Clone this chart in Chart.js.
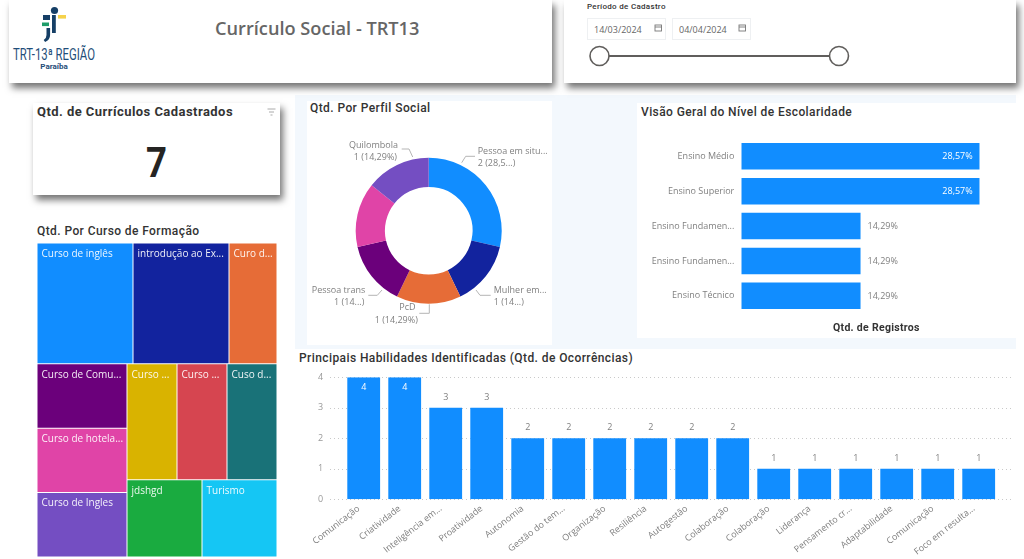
<!DOCTYPE html>
<html lang="pt-BR"><head><meta charset="utf-8">
<script src="https://cdn.jsdelivr.net/npm/chart.js@4"></script>
<style>
html,body{margin:0;padding:0;background:#fff;width:1024px;height:559px;overflow:hidden}
body{position:relative;font-family:Roboto,sans-serif}
.abs,canvas{position:absolute;display:block}
.panel{position:absolute;background:#fff}
.shadow{box-shadow:3px 5px 7px rgba(0,0,0,.55)}
.ttl{position:absolute;white-space:nowrap;color:#333;font:500 12px Roboto,sans-serif;letter-spacing:.41px;line-height:16px}
.date{position:absolute;top:18px;height:22px;width:79px;border:1px solid #eef0f2;box-sizing:border-box;font:9px "Open Sans",sans-serif;color:#666;line-height:22px;padding-left:6px}
</style></head><body>
<div class="abs" style="left:295px;top:95px;width:721px;height:254px;background:#f3f8fd"></div>

<div class="panel shadow" style="left:9px;top:0;width:543px;height:83px"></div>
<div class="panel shadow" style="left:564px;top:0;width:452px;height:83px"></div>
<svg class="abs" style="left:0;top:0" width="110" height="76" viewBox="0 0 110 76">
  <circle cx="54.5" cy="10.5" r="3.6" fill="#163f66"/>
  <rect x="58" y="15" width="8" height="3.6" fill="#f5d24b"/>
  <rect x="43" y="15" width="7" height="5" fill="#163f66"/>
  <rect x="42" y="22.5" width="7" height="3.6" fill="#1f9d6a"/>
  <path d="M52 15h3.8v18h-3.8zM46.5 28h3.6v7q0 5-5 7l-1.4-2q2.8-1.6 2.8-5z" fill="#163f66"/>
  <text x="54" y="59.5" text-anchor="middle" textLength="82" lengthAdjust="spacingAndGlyphs" font-family="Roboto" font-size="16" fill="#1f4e79">TRT-13ª REGIÃO</text>
  <text x="54" y="69" text-anchor="middle" font-family="Roboto" font-weight="700" font-size="8" fill="#1f4e79">Paraíba</text>
</svg>
<div class="ttl" style="left:215px;top:16px;font:600 18.2px/24px 'Open Sans',sans-serif;color:#666;letter-spacing:0">Currículo Social - TRT13</div>

<div class="ttl" style="left:587px;top:2px;font:500 8px Roboto,sans-serif;letter-spacing:.3px;color:#333">Período de Cadastro</div>
<div class="date" style="left:587px">14/03/2024</div>
<div class="date" style="left:672px">04/04/2024</div>
<svg class="abs" style="left:560px;top:15px" width="240" height="60" viewBox="0 0 240 60">
  <g fill="none" stroke="#777" stroke-width=".9"><rect x="95" y="10" width="6.5" height="6"/><path d="M95 12h6.5"/><rect x="179" y="10" width="6.5" height="6"/><path d="M179 12h6.5"/></g>
</svg>
<svg class="abs" style="left:585px;top:42px" width="270" height="28" viewBox="0 0 270 28">
  <line x1="14" y1="14" x2="254" y2="14" stroke="#605e5c" stroke-width="2"/>
  <circle cx="14.5" cy="14" r="9.5" fill="#fff" stroke="#605e5c" stroke-width="1.6"/>
  <circle cx="254" cy="14" r="9.5" fill="#fff" stroke="#605e5c" stroke-width="1.6"/>
</svg>

<div class="panel shadow" style="left:33px;top:103px;width:247px;height:92px"></div>
<div class="ttl" style="left:37px;top:104px;font:700 13px/16px Roboto,sans-serif;letter-spacing:.45px">Qtd. de Currículos Cadastrados</div>
<svg class="abs" style="left:267px;top:108px" width="10" height="9"><path d="M.5 1h8M2 4h5M3.5 7h2" stroke="#aaa" stroke-width="1" fill="none"/></svg>
<div class="abs" style="left:33px;top:135px;width:247px;text-align:center;font:700 43px/54px Roboto,sans-serif;color:#252423;transform:scaleX(.85)">7</div>

<div class="ttl" style="left:37px;top:223px">Qtd. Por Curso de Formação</div>
<canvas id="treemap" style="left:37px;top:243px" width="240" height="314"></canvas>

<div class="panel" style="left:307px;top:101px;width:245px;height:244px"></div>
<div class="ttl" style="left:310px;top:100px">Qtd. Por Perfil Social</div>
<canvas id="donut" style="left:307px;top:101px" width="245" height="244"></canvas>

<div class="panel" style="left:637px;top:103px;width:379px;height:235px"></div>
<div class="ttl" style="left:641px;top:104px">Visão Geral do Nível de Escolaridade</div>
<canvas id="levels" style="left:637px;top:103px" width="379" height="235"></canvas>
<div class="ttl" style="left:833px;top:320px;font-size:10.5px;font-weight:700;letter-spacing:.3px">Qtd. de Registros</div>

<div class="panel" style="left:295px;top:349px;width:729px;height:210px"></div>
<div class="ttl" style="left:299px;top:350px">Principais Habilidades Identificadas (Qtd. de Ocorrências)</div>
<canvas id="skills" style="left:295px;top:349px" width="729" height="210"></canvas>

<script>
// ---- data ----
const courseNames  = ['Curso de inglês','introdução ao Ex...','Curo d...','Curso de Comu...','Curso de hotela...','Curso de Ingles','Curso ...','Curso ...','Cuso d...','jdshgd','Turismo'];
const courseValues = [2,2,1,1,1,1,1,1,1,1,1];
const courseColors = ['#118DFF','#12239E','#E66C37','#6B007B','#E044A7','#744EC2','#D9B300','#D64550','#197278','#1AAB40','#15C6F4'];

const profileNames  = ['Pessoa em situ...','Mulher em...','PcD','Pessoa trans','(sem rótulo)','Quilombola'];
const profileValues = [2,1,1,1,1,1];
const profileCaptions = ['2 (28,5...)','1 (14...)','1 (14,29%)','1 (14...)','','1 (14,29%)'];
const profileColors = ['#118DFF','#12239E','#E66C37','#6B007B','#E044A7','#744EC2'];

const levelNames  = ['Ensino Médio','Ensino Superior','Ensino Fundamen...','Ensino Fundamen...','Ensino Técnico'];
const levelValues = [28.57,28.57,14.29,14.29,14.29];

const skillNames  = ['Comunicação','Criatividade','Inteligência em...','Proatividade','Autonomia','Gestão do tem...','Organização','Resiliência','Autogestão','Colaboração','Colaboração','Liderança','Pensamento cr...','Adaptabilidade','Comunicação','Foco em resulta...'];
const skillValues = [4,4,3,3,2,2,2,2,2,2,1,1,1,1,1,1];
const skillTicks  = [0,1,2,3,4];

// ---- style ----
const BLUE='#118DFF', LBL='9px "Open Sans", sans-serif', GRAY='#808080';
Chart.defaults.animation=false;
Chart.defaults.responsive=false;
Chart.defaults.events=[];
Chart.defaults.plugins.legend.display=false;
Chart.defaults.plugins.tooltip.enabled=false;

// ---- treemap: strips of cells cut from the remaining area, cell size from the values ----
const stripPlan=[['top',3],['left',3],['top',3],['top',2]];
const treemapPlugin={id:'treemapPlugin',
  afterDatasetsUpdate(chart){
    const meta=chart.getDatasetMeta(0), vals=chart.data.datasets[0].data, sx=chart.scales.tx, sy=chart.scales.ty;
    let rest={x0:0,y0:0,x1:1,y1:1}, left=vals.reduce((a,b)=>a+b,0), i=0;
    stripPlan.forEach(([side,n])=>{
      const cells=vals.slice(i,i+n), sum=cells.reduce((a,b)=>a+b,0), f=sum/left;
      const s={...rest};
      if(side==='top'){s.y1=rest.y0+(rest.y1-rest.y0)*f;rest.y0=s.y1}else{s.x1=rest.x0+(rest.x1-rest.x0)*f;rest.x0=s.x1}
      let run=0;
      cells.forEach((v,k)=>{
        const a=run/sum,b=(run+v)/sum;run+=v;
        const c=side==='top'?{x0:s.x0+(s.x1-s.x0)*a,x1:s.x0+(s.x1-s.x0)*b,y0:s.y0,y1:s.y1}
                            :{x0:s.x0,x1:s.x1,y0:s.y0+(s.y1-s.y0)*a,y1:s.y0+(s.y1-s.y0)*b};
        const el=meta.data[i+k], L=sx.getPixelForValue(c.x0)+.5,R=sx.getPixelForValue(c.x1)-.5,T=sy.getPixelForValue(c.y0)+.5,B=sy.getPixelForValue(c.y1)-.5;
        el.x=(L+R)/2;el.width=R-L;el.y=T;el.base=B;el.height=B-T;
      });
      i+=n;left-=sum;
    });
  },
  afterDatasetsDraw(chart){
    const c=chart.ctx,meta=chart.getDatasetMeta(0);
    c.save();c.font='10px "Open Sans", sans-serif';c.fillStyle='rgba(255,255,255,.92)';c.textBaseline='middle';c.textAlign='left';
    meta.data.forEach((el,i)=>c.fillText(chart.data.labels[i],el.x-el.width/2+4,el.y+10.5));
    c.restore();
  }};
new Chart(document.getElementById('treemap'),{type:'bar',
  data:{labels:courseNames,datasets:[{data:courseValues,backgroundColor:courseColors,borderWidth:0}]},
  options:{layout:{padding:0},scales:{
    x:{display:false},y:{display:false},
    tx:{axis:'x',type:'linear',min:0,max:1,offset:false,display:false},
    ty:{axis:'y',type:'linear',min:0,max:1,offset:false,reverse:true,display:false}}},
  plugins:[treemapPlugin]});

// ---- donut with leader lines ----
const calloutPlan=[
  {text:[477.7,151,'left'],cap:[477.7,163.7],line:[[461.7,162.7],[465.7,156.3],[475,156.3]]},
  {text:[493.7,290,'left'],cap:[493.7,302.7],line:[[476,290],[480,295.3],[490.7,295.3]]},
  {text:[399.3,307.3,'left'],cap:[374.7,320.3],line:[[429.3,304.3],[429.3,313.3],[419.3,313.3]]},
  {text:[365.3,290,'right'],cap:[364.3,302.7],line:[[382,290],[377.3,295.3],[368.3,295.3]]},
  null,
  {text:[398,145,'right'],cap:[397,157.7],line:[[412.7,157],[409,149],[401.7,149]]}
];
const calloutPlugin={id:'calloutPlugin',afterDatasetsDraw(chart){
  const c=chart.ctx,ox=307,oy=101;
  c.save();c.font=LBL;c.textBaseline='middle';
  calloutPlan.forEach((p,i)=>{ if(!p)return;
    c.strokeStyle='#b5b5b5';c.lineWidth=1;c.beginPath();
    p.line.forEach(([x,y],k)=>k?c.lineTo(x-ox,y-oy):c.moveTo(x-ox,y-oy));c.stroke();
    c.fillStyle=GRAY;c.textAlign=p.text[2];
    c.fillText(profileNames[i],p.text[0]-ox,p.text[1]-oy);
    c.textAlign=i===2?'left':p.text[2];
    c.fillText(profileCaptions[i],p.cap[0]-ox,p.cap[1]-oy);
  });
  c.restore();
}};
new Chart(document.getElementById('donut'),{type:'doughnut',
  data:{labels:profileNames,datasets:[{data:profileValues,backgroundColor:profileColors,borderWidth:0}]},
  options:{cutout:'60%',layout:{padding:{left:48.7,right:50.3,top:56.7,bottom:41.3}}},
  plugins:[calloutPlugin]});

// ---- value labels shared by both bar charts ----
const valueLabels=(fmt,isInside,offset)=>({id:'valueLabels',afterDatasetsDraw(chart){
  const c=chart.ctx,m=chart.getDatasetMeta(0),vals=chart.data.datasets[0].data,h=chart.options.indexAxis==='y';
  c.save();c.font=LBL;c.textBaseline='middle';
  m.data.forEach((el,i)=>{
    const inside=isInside(vals[i]);
    c.fillStyle=inside?'#fff':GRAY;
    if(h){c.textAlign=inside?'right':'left';c.fillText(fmt(vals[i]),el.x+(inside?-offset:offset),el.y+.5)}
    else{c.textAlign='center';c.fillText(fmt(vals[i]),el.x,el.y+(inside?offset:-offset))}
  });
  c.restore();
}});

// ---- education level ----
new Chart(document.getElementById('levels'),{type:'bar',
  data:{labels:levelNames,datasets:[{data:levelValues,backgroundColor:BLUE,borderWidth:0,categoryPercentage:1,barPercentage:.76}]},
  options:{indexAxis:'y',layout:{padding:{right:36.3,top:35.8,bottom:24.7}},
    scales:{x:{display:false,min:0,max:28.57},
      y:{grid:{display:false,drawTicks:false},border:{display:false},afterFit:s=>{s.width=104.3},
         ticks:{color:GRAY,font:{family:'"Open Sans", sans-serif',size:9},padding:7,autoSkip:false}}}},
  plugins:[valueLabels(v=>v.toFixed(2).replace('.',',')+'%',v=>v>20,7)]});

// ---- skills ----
const skillGrid={id:'skillGrid',beforeDatasetsDraw(chart){
  const c=chart.ctx,y=chart.scales.y;
  c.save();c.strokeStyle='#c9c9c9';c.lineWidth=1;c.setLineDash([1,3]);
  skillTicks.forEach(t=>{const p=Math.round(y.getPixelForValue(t))+.5;c.beginPath();c.moveTo(35,p);c.lineTo(719,p);c.stroke()});
  c.restore();
}};
new Chart(document.getElementById('skills'),{type:'bar',
  data:{labels:skillNames,datasets:[{data:skillValues,backgroundColor:BLUE,borderWidth:0,categoryPercentage:1,barPercentage:.8}]},
  options:{layout:{padding:{right:24.8,top:28.3}},
    scales:{
      x:{grid:{display:false},border:{display:false},
         afterFit:s=>{s.height=59.7;s.paddingLeft=0;s.paddingRight=0},
         ticks:{color:GRAY,font:{family:'"Open Sans", sans-serif',size:9},minRotation:38,maxRotation:38,autoSkip:false,padding:-4,labelOffset:-5}},
      y:{min:0,max:4,grid:{display:false,drawTicks:false},border:{display:false},
         afterFit:s=>{s.width=48.2;s.paddingTop=0;s.paddingBottom=0},
         afterBuildTicks:s=>{s.ticks=skillTicks.map(v=>({value:v}))},
         ticks:{color:'#999',font:{family:'"Open Sans", sans-serif',size:9},padding:20}}}},
  plugins:[skillGrid,valueLabels(v=>String(v),v=>v>3,10.5)]});
</script>
</body></html>
